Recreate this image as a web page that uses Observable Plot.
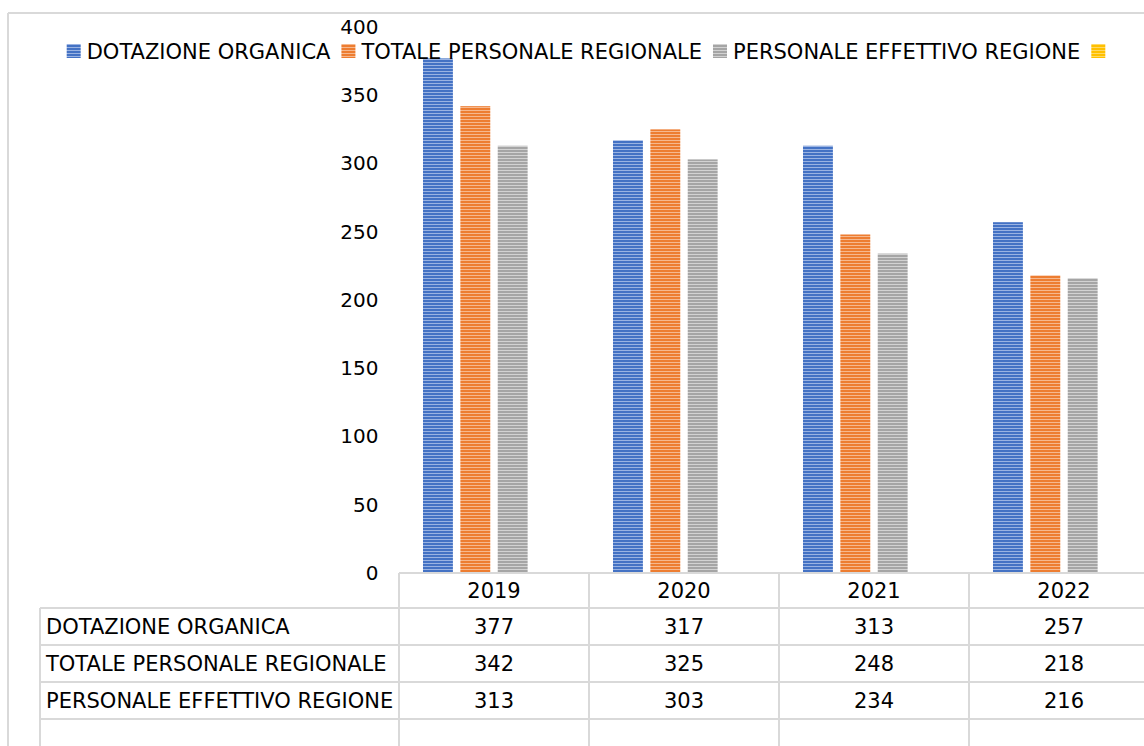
<!DOCTYPE html>
<html><head><meta charset="utf-8">
<script src="https://cdn.jsdelivr.net/npm/d3@7"></script>
<script src="https://cdn.jsdelivr.net/npm/@observablehq/plot@0.6"></script>
<style>
html,body{margin:0;padding:0;background:#fff;overflow:hidden;width:1144px;height:746px;}
#chart{position:absolute;left:0;top:0;width:1200px;}
#chart svg{max-width:none !important;}
</style></head><body><div id="chart"></div>
<script>
// ---- data ----
const years = ["2019", "2020", "2021", "2022"];
const seriesNames = ["DOTAZIONE ORGANICA", "TOTALE PERSONALE REGIONALE", "PERSONALE EFFETTIVO REGIONE", ""];
const dotazioneOrganica = [377, 317, 313, 257];
const totalePersonaleRegionale = [342, 325, 248, 218];
const personaleEffettivoRegione = [313, 303, 234, 216];
const yTicks = [0, 50, 100, 150, 200, 250, 300, 350, 400];
const baseColors = ["#4472C4", "#ED7D31", "#A5A5A5", "#FFC000"];
const lightColors = ["#9AB3E2", "#F6B88E", "#D2D2D2", "#FFD966"];

const seriesValues = [dotazioneOrganica, totalePersonaleRegionale, personaleEffettivoRegione];
const data = [];
seriesValues.forEach((vals, si) => vals.forEach((v, yi) => data.push({year: years[yi], series: seriesNames[si], value: v})));
const patternUrls = baseColors.map((c, i) => `url(#stripe${i})`);

const FONT = "DejaVu Sans, Verdana, sans-serif";
const TXT = 21;

const chart = Plot.plot({
  width: 1159, height: 746,
  marginLeft: 399, marginRight: 0, marginTop: 27, marginBottom: 173,
  style: {fontFamily: FONT, fontSize: "20px", color: "#000", background: "transparent", overflow: "visible"},
  fx: {domain: years, paddingInner: 0.2526, paddingOuter: 0.1263, round: false, axis: null, label: null},
  x: {domain: seriesNames, paddingInner: 0.2, paddingOuter: 0, round: false, axis: null},
  y: {domain: [0, 400], ticks: yTicks, tickSize: 0, tickPadding: 45, label: null, tickFormat: d => String(d)},
  color: {domain: seriesNames, range: patternUrls},
  marks: [
    Plot.barY(data, {fx: "year", x: "series", y: "value", fill: "series"})
  ]
});
chart.style.maxWidth = "none";
document.getElementById("chart").appendChild(chart);

const svg = d3.select(chart);
// stripe patterns
const defs = svg.insert("defs", ":first-child");
baseColors.forEach((c, i) => {
  const p = defs.append("pattern").attr("id", `stripe${i}`).attr("patternUnits", "userSpaceOnUse")
    .attr("width", 8).attr("height", 3);
  p.append("rect").attr("width", 8).attr("height", 3).attr("fill", c);
  p.append("rect").attr("y", 2).attr("width", 8).attr("height", 1).attr("fill", lightColors[i]);
});

const fx = chart.scale("fx");
const yS = chart.scale("y");
const y0 = yS.apply(0);
const step = fx.step;
const colLeft = years.map(yr => fx.apply(yr) + fx.bandwidth / 2 - step / 2);
const tableRight = colLeft[colLeft.length - 1] + step;
const rowH = 37;
const headerBottom = y0 + 35;
const rowTops = [headerBottom, headerBottom + rowH, headerBottom + 2 * rowH, headerBottom + 3 * rowH];
const labelLeft = 40;
const lineColor = "#D9D9D9";

const g = svg.append("g").attr("stroke", lineColor).attr("stroke-width", 2).attr("fill", "none");
// outer chart border
g.append("line").attr("x1", 8).attr("x2", 1200).attr("y1", 13).attr("y2", 13);
g.append("line").attr("x1", 8).attr("x2", 8).attr("y1", 13).attr("y2", 800);
// header top (baseline)
g.append("line").attr("x1", colLeft[0]).attr("x2", tableRight).attr("y1", y0).attr("y2", y0);
// row lines
rowTops.forEach(t => g.append("line").attr("x1", labelLeft).attr("x2", tableRight).attr("y1", t).attr("y2", t));
// vertical lines
g.append("line").attr("x1", labelLeft).attr("x2", labelLeft).attr("y1", headerBottom).attr("y2", 800);
colLeft.concat([tableRight]).forEach(x => g.append("line").attr("x1", x).attr("x2", x).attr("y1", y0).attr("y2", 800));

const tg = svg.append("g").attr("font-family", FONT).attr("font-size", TXT).attr("fill", "#000");
// header years
years.forEach((yr, i) => tg.append("text").attr("x", colLeft[i] + step / 2).attr("y", (y0 + headerBottom) / 2)
  .attr("text-anchor", "middle").attr("dy", "0.36em").text(yr));
// rows
seriesValues.forEach((vals, si) => {
  const cy = rowTops[si] + rowH / 2;
  tg.append("text").attr("x", labelLeft + 6).attr("y", cy).attr("dy", "0.36em").attr("text-anchor", "start").text(seriesNames[si]);
  vals.forEach((v, i) => tg.append("text").attr("x", colLeft[i] + step / 2).attr("y", cy)
    .attr("text-anchor", "middle").attr("dy", "0.36em").text(v));
});

// legend
const lg = svg.append("g").attr("font-family", FONT).attr("font-size", TXT).attr("fill", "#000").attr("text-anchor", "start");
const items = [];
seriesNames.forEach((name, i) => {
  const it = lg.append("g");
  it.append("rect").attr("x", 0).attr("y", -7).attr("width", 14).attr("height", 14).attr("fill", patternUrls[i]);
  const t = it.append("text").attr("x", 20).attr("y", 0).attr("dy", "0.36em").attr("text-anchor", "start").text(name);
  const w = name ? 20 + t.node().getComputedTextLength() : 14;
  items.push({it, w});
});
const gap = 11;
const total = items.reduce((s, d) => s + d.w, 0) + gap * (items.length - 1);
let x = 586 - total / 2;
items.forEach(d => { d.it.attr("transform", `translate(${x},51)`); x += d.w + gap; });
</script></body></html>
